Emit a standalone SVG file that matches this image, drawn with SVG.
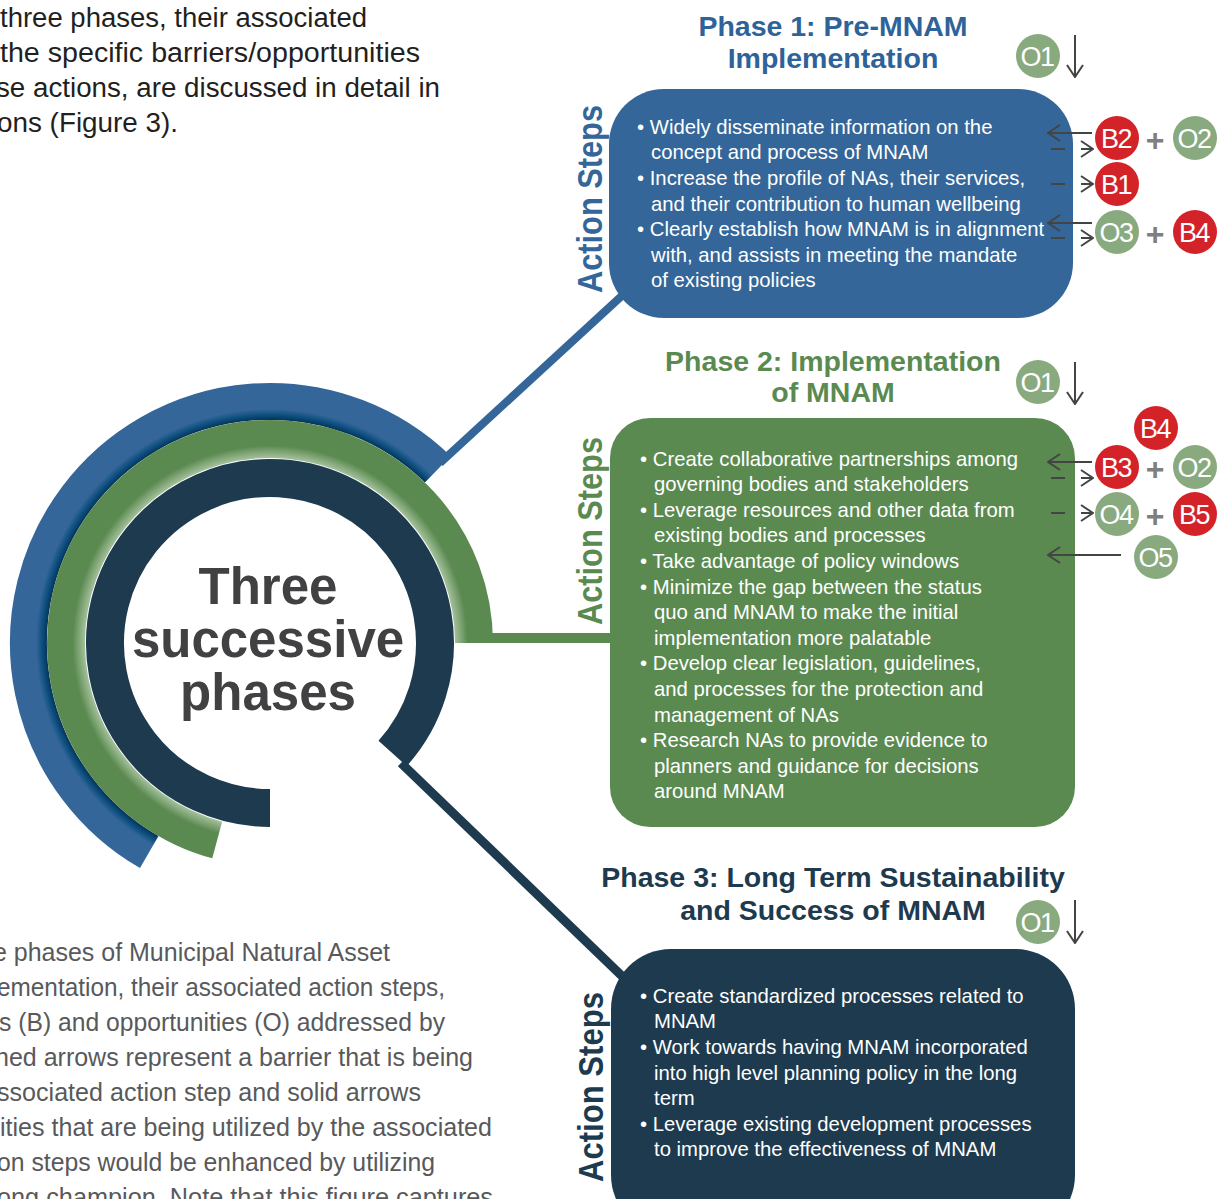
<svg xmlns="http://www.w3.org/2000/svg" width="1226" height="1199" viewBox="0 0 1226 1199">
<style>
.body{font-family:"Liberation Sans",Arial,sans-serif;font-size:20.3px;fill:#ffffff}
.title{font-family:"Liberation Sans",Arial,sans-serif;font-size:28.5px;font-weight:bold;text-anchor:middle}
.steps{font-family:"Liberation Sans",Arial,sans-serif;font-size:35px;font-weight:bold;text-anchor:middle}
.badge{font-family:"Liberation Sans",Arial,sans-serif;font-size:27px;fill:#ffffff;text-anchor:middle;letter-spacing:-1.5px}
.plus{font-family:"Liberation Sans",Arial,sans-serif;font-size:32px;font-weight:bold;fill:#7f7f7f;text-anchor:middle}
.ptop{font-family:"Liberation Sans",Arial,sans-serif;font-size:27px;fill:#231f20}
.pbot{font-family:"Liberation Sans",Arial,sans-serif;font-size:26px;fill:#58595b}
.hub{font-family:"Liberation Sans",Arial,sans-serif;font-size:51px;font-weight:bold;fill:#414042;text-anchor:middle}
.arr{stroke:#444444;stroke-width:2;fill:none}
.dash{stroke-dasharray:14 16}
.red{fill:#d42229}
.opp{fill:#89a97f}
</style>
<defs>
<marker id="ah" markerUnits="userSpaceOnUse" viewBox="0 0 14 18" refX="13" refY="9" markerWidth="14" markerHeight="18" orient="auto">
<path d="M1,1 L13,9 L1,17" fill="none" stroke="#444444" stroke-width="2"/>
</marker>
<radialGradient id="gBlue" gradientUnits="userSpaceOnUse" cx="270" cy="643" r="260">
<stop offset="0.855" stop-color="#06304f"/>
<stop offset="0.875" stop-color="#0a4d7d"/>
<stop offset="0.9" stop-color="#346699"/>
<stop offset="1" stop-color="#346699"/>
</radialGradient>
<radialGradient id="gGreen" gradientUnits="userSpaceOnUse" cx="270" cy="643" r="223">
<stop offset="0.83" stop-color="#a4c09b"/>
<stop offset="0.885" stop-color="#5b8a51"/>
<stop offset="1" stop-color="#5b8a51"/>
</radialGradient>
</defs>

<rect width="1226" height="1199" fill="#ffffff"/>

<g id="intro-text">
<text class="ptop" x="0" y="27" textLength="367" lengthAdjust="spacingAndGlyphs">three phases, their associated</text>
<text class="ptop" x="0" y="62" textLength="420" lengthAdjust="spacingAndGlyphs">the specific barriers/opportunities</text>
<text class="ptop" x="-4" y="97" textLength="444" lengthAdjust="spacingAndGlyphs">se actions, are discussed in detail in</text>
<text class="ptop" x="-3" y="132" textLength="181" lengthAdjust="spacingAndGlyphs">ons (Figure 3).</text>
</g>

<g id="caption-text">
<text class="pbot" x="-7" y="961" textLength="397" lengthAdjust="spacingAndGlyphs">e phases of Municipal Natural Asset</text>
<text class="pbot" x="-3" y="996" textLength="448" lengthAdjust="spacingAndGlyphs">ementation, their associated action steps,</text>
<text class="pbot" x="-1" y="1031" textLength="446" lengthAdjust="spacingAndGlyphs">s (B) and opportunities (O) addressed by</text>
<text class="pbot" x="-5" y="1066" textLength="478" lengthAdjust="spacingAndGlyphs">hed arrows represent a barrier that is being</text>
<text class="pbot" x="-3" y="1101" textLength="424" lengthAdjust="spacingAndGlyphs">ssociated action step and solid arrows</text>
<text class="pbot" x="0" y="1136" textLength="492" lengthAdjust="spacingAndGlyphs">ities that are being utilized by the associated</text>
<text class="pbot" x="-3" y="1171" textLength="438" lengthAdjust="spacingAndGlyphs">on steps would be enhanced by utilizing</text>
<text class="pbot" x="-3" y="1206" textLength="496" lengthAdjust="spacingAndGlyphs">ong champion. Note that this figure captures</text>
</g>

<g id="hub">
<path d="M149.25,852.1 A241.5,241.5 0 1 1 437.8,469.3" fill="none" stroke="url(#gBlue)" stroke-width="37"/>
<path d="M217.2,840 A204,204 0 1 1 474,643" fill="none" stroke="url(#gGreen)" stroke-width="38"/>
<path d="M270,808 A165,165 0 1 1 392.6,753.4" fill="none" stroke="#1d3a4f" stroke-width="38"/>
<text class="hub" x="268" y="604">Three</text>
<text class="hub" x="268" y="657">successive</text>
<text class="hub" x="268" y="710">phases</text>
</g>

<g id="phase1">
<text class="title" fill="#2e6399" x="833" y="36">Phase 1: Pre-MNAM</text>
<text class="title" fill="#2e6399" x="833" y="68">Implementation</text>
<text class="steps" fill="#346699" transform="translate(602,199) rotate(-90)" textLength="188" lengthAdjust="spacingAndGlyphs">Action Steps</text>
<rect x="609" y="89" width="464" height="229" rx="55" fill="#346699"/>
<text class="body" x="637" y="134">• Widely disseminate information on the</text>
<text class="body" x="651" y="159">concept and process of MNAM</text>
<text class="body" x="637" y="185">• Increase the profile of NAs, their services,</text>
<text class="body" x="651" y="211">and their contribution to human wellbeing</text>
<text class="body" x="637" y="236">• Clearly establish how MNAM is in alignment</text>
<text class="body" x="651" y="262">with, and assists in meeting the mandate</text>
<text class="body" x="651" y="287">of existing policies</text>
</g>

<g id="phase2">
<text class="title" fill="#5b8a51" x="833" y="371">Phase 2: Implementation</text>
<text class="title" fill="#5b8a51" x="833" y="402">of MNAM</text>
<text class="steps" fill="#5b8a51" transform="translate(602,531) rotate(-90)" textLength="188" lengthAdjust="spacingAndGlyphs">Action Steps</text>
<rect x="610" y="418" width="465" height="409" rx="40" fill="#5b8a51"/>
<text class="body" x="640" y="466">• Create collaborative partnerships among</text>
<text class="body" x="654" y="491">governing bodies and stakeholders</text>
<text class="body" x="640" y="517">• Leverage resources and other data from</text>
<text class="body" x="654" y="542">existing bodies and processes</text>
<text class="body" x="640" y="568">• Take advantage of policy windows</text>
<text class="body" x="640" y="594">• Minimize the gap between the status</text>
<text class="body" x="654" y="619">quo and MNAM to make the initial</text>
<text class="body" x="654" y="645">implementation more palatable</text>
<text class="body" x="640" y="670">• Develop clear legislation, guidelines,</text>
<text class="body" x="654" y="696">and processes for the protection and</text>
<text class="body" x="654" y="722">management of NAs</text>
<text class="body" x="640" y="747">• Research NAs to provide evidence to</text>
<text class="body" x="654" y="773">planners and guidance for decisions</text>
<text class="body" x="654" y="798">around MNAM</text>
</g>

<g id="phase3">
<text class="title" fill="#1d3a4f" x="833" y="887">Phase 3: Long Term Sustainability</text>
<text class="title" fill="#1d3a4f" x="833" y="920">and Success of MNAM</text>
<text class="steps" fill="#1d3a4f" transform="translate(603,1087) rotate(-90)" textLength="190" lengthAdjust="spacingAndGlyphs">Action Steps</text>
<rect x="611" y="949" width="464" height="286" rx="60" fill="#1d3a4f"/>
<text class="body" x="640" y="1003">• Create standardized processes related to</text>
<text class="body" x="654" y="1028">MNAM</text>
<text class="body" x="640" y="1054">• Work towards having MNAM incorporated</text>
<text class="body" x="654" y="1080">into high level planning policy in the long</text>
<text class="body" x="654" y="1105">term</text>
<text class="body" x="640" y="1131">• Leverage existing development processes</text>
<text class="body" x="654" y="1156">to improve the effectiveness of MNAM</text>
</g>

<g id="badges-phase1">
<circle class="opp" cx="1038" cy="56" r="22"/><text class="badge" x="1037" y="66">O1</text>
<circle class="red" cx="1117" cy="138" r="22"/><text class="badge" x="1116" y="148">B2</text>
<text class="plus" x="1155" y="151">+</text>
<circle class="opp" cx="1195" cy="138" r="22"/><text class="badge" x="1194" y="148">O2</text>
<circle class="red" cx="1117" cy="184" r="22"/><text class="badge" x="1116" y="194">B1</text>
<circle class="opp" cx="1117" cy="232" r="22"/><text class="badge" x="1116" y="242">O3</text>
<text class="plus" x="1155" y="245">+</text>
<circle class="red" cx="1195" cy="232" r="22"/><text class="badge" x="1194" y="242">B4</text>
</g>

<g id="badges-phase2">
<circle class="opp" cx="1038" cy="382" r="22"/><text class="badge" x="1037" y="392">O1</text>
<circle class="red" cx="1156" cy="428" r="22"/><text class="badge" x="1155" y="438">B4</text>
<circle class="red" cx="1117" cy="467" r="22"/><text class="badge" x="1116" y="477">B3</text>
<text class="plus" x="1155" y="480">+</text>
<circle class="opp" cx="1195" cy="467" r="22"/><text class="badge" x="1194" y="477">O2</text>
<circle class="opp" cx="1117" cy="514" r="22"/><text class="badge" x="1116" y="524">O4</text>
<text class="plus" x="1155" y="527">+</text>
<circle class="red" cx="1195" cy="514" r="22"/><text class="badge" x="1194" y="524">B5</text>
<circle class="opp" cx="1156" cy="557" r="22"/><text class="badge" x="1155" y="567">O5</text>
</g>

<g id="badges-phase3">
<circle class="opp" cx="1038" cy="922" r="22"/><text class="badge" x="1037" y="932">O1</text>
</g>

<g id="connectors">
<line x1="440" y1="463" x2="626" y2="292" stroke="#346699" stroke-width="8"/>
<line x1="490" y1="638" x2="614" y2="638" stroke="#5b8a51" stroke-width="10"/>
<line x1="401" y1="763" x2="624" y2="978" stroke="#1d3a4f" stroke-width="9"/>
<!-- phase 1 badge arrows -->
<line class="arr" x1="1092" y1="133" x2="1048" y2="133" marker-end="url(#ah)"/>
<line class="arr dash" x1="1051" y1="149" x2="1093" y2="149" marker-end="url(#ah)"/>
<line class="arr dash" x1="1051" y1="184" x2="1093" y2="184" marker-end="url(#ah)"/>
<line class="arr" x1="1092" y1="223" x2="1048" y2="223" marker-end="url(#ah)"/>
<line class="arr dash" x1="1051" y1="238" x2="1093" y2="238" marker-end="url(#ah)"/>
<!-- phase 2 badge arrows -->
<line class="arr" x1="1092" y1="462" x2="1048" y2="462" marker-end="url(#ah)"/>
<line class="arr dash" x1="1051" y1="478" x2="1093" y2="478" marker-end="url(#ah)"/>
<line class="arr dash" x1="1051" y1="513" x2="1093" y2="513" marker-end="url(#ah)"/>
<line class="arr" x1="1121" y1="555" x2="1048" y2="555" marker-end="url(#ah)"/>
<!-- O1 down arrows -->
<line class="arr" x1="1075" y1="35" x2="1075" y2="77" marker-end="url(#ah)"/>
<line class="arr" x1="1075" y1="362" x2="1075" y2="404" marker-end="url(#ah)"/>
<line class="arr" x1="1075" y1="900" x2="1075" y2="943" marker-end="url(#ah)"/>
</g>
</svg>
